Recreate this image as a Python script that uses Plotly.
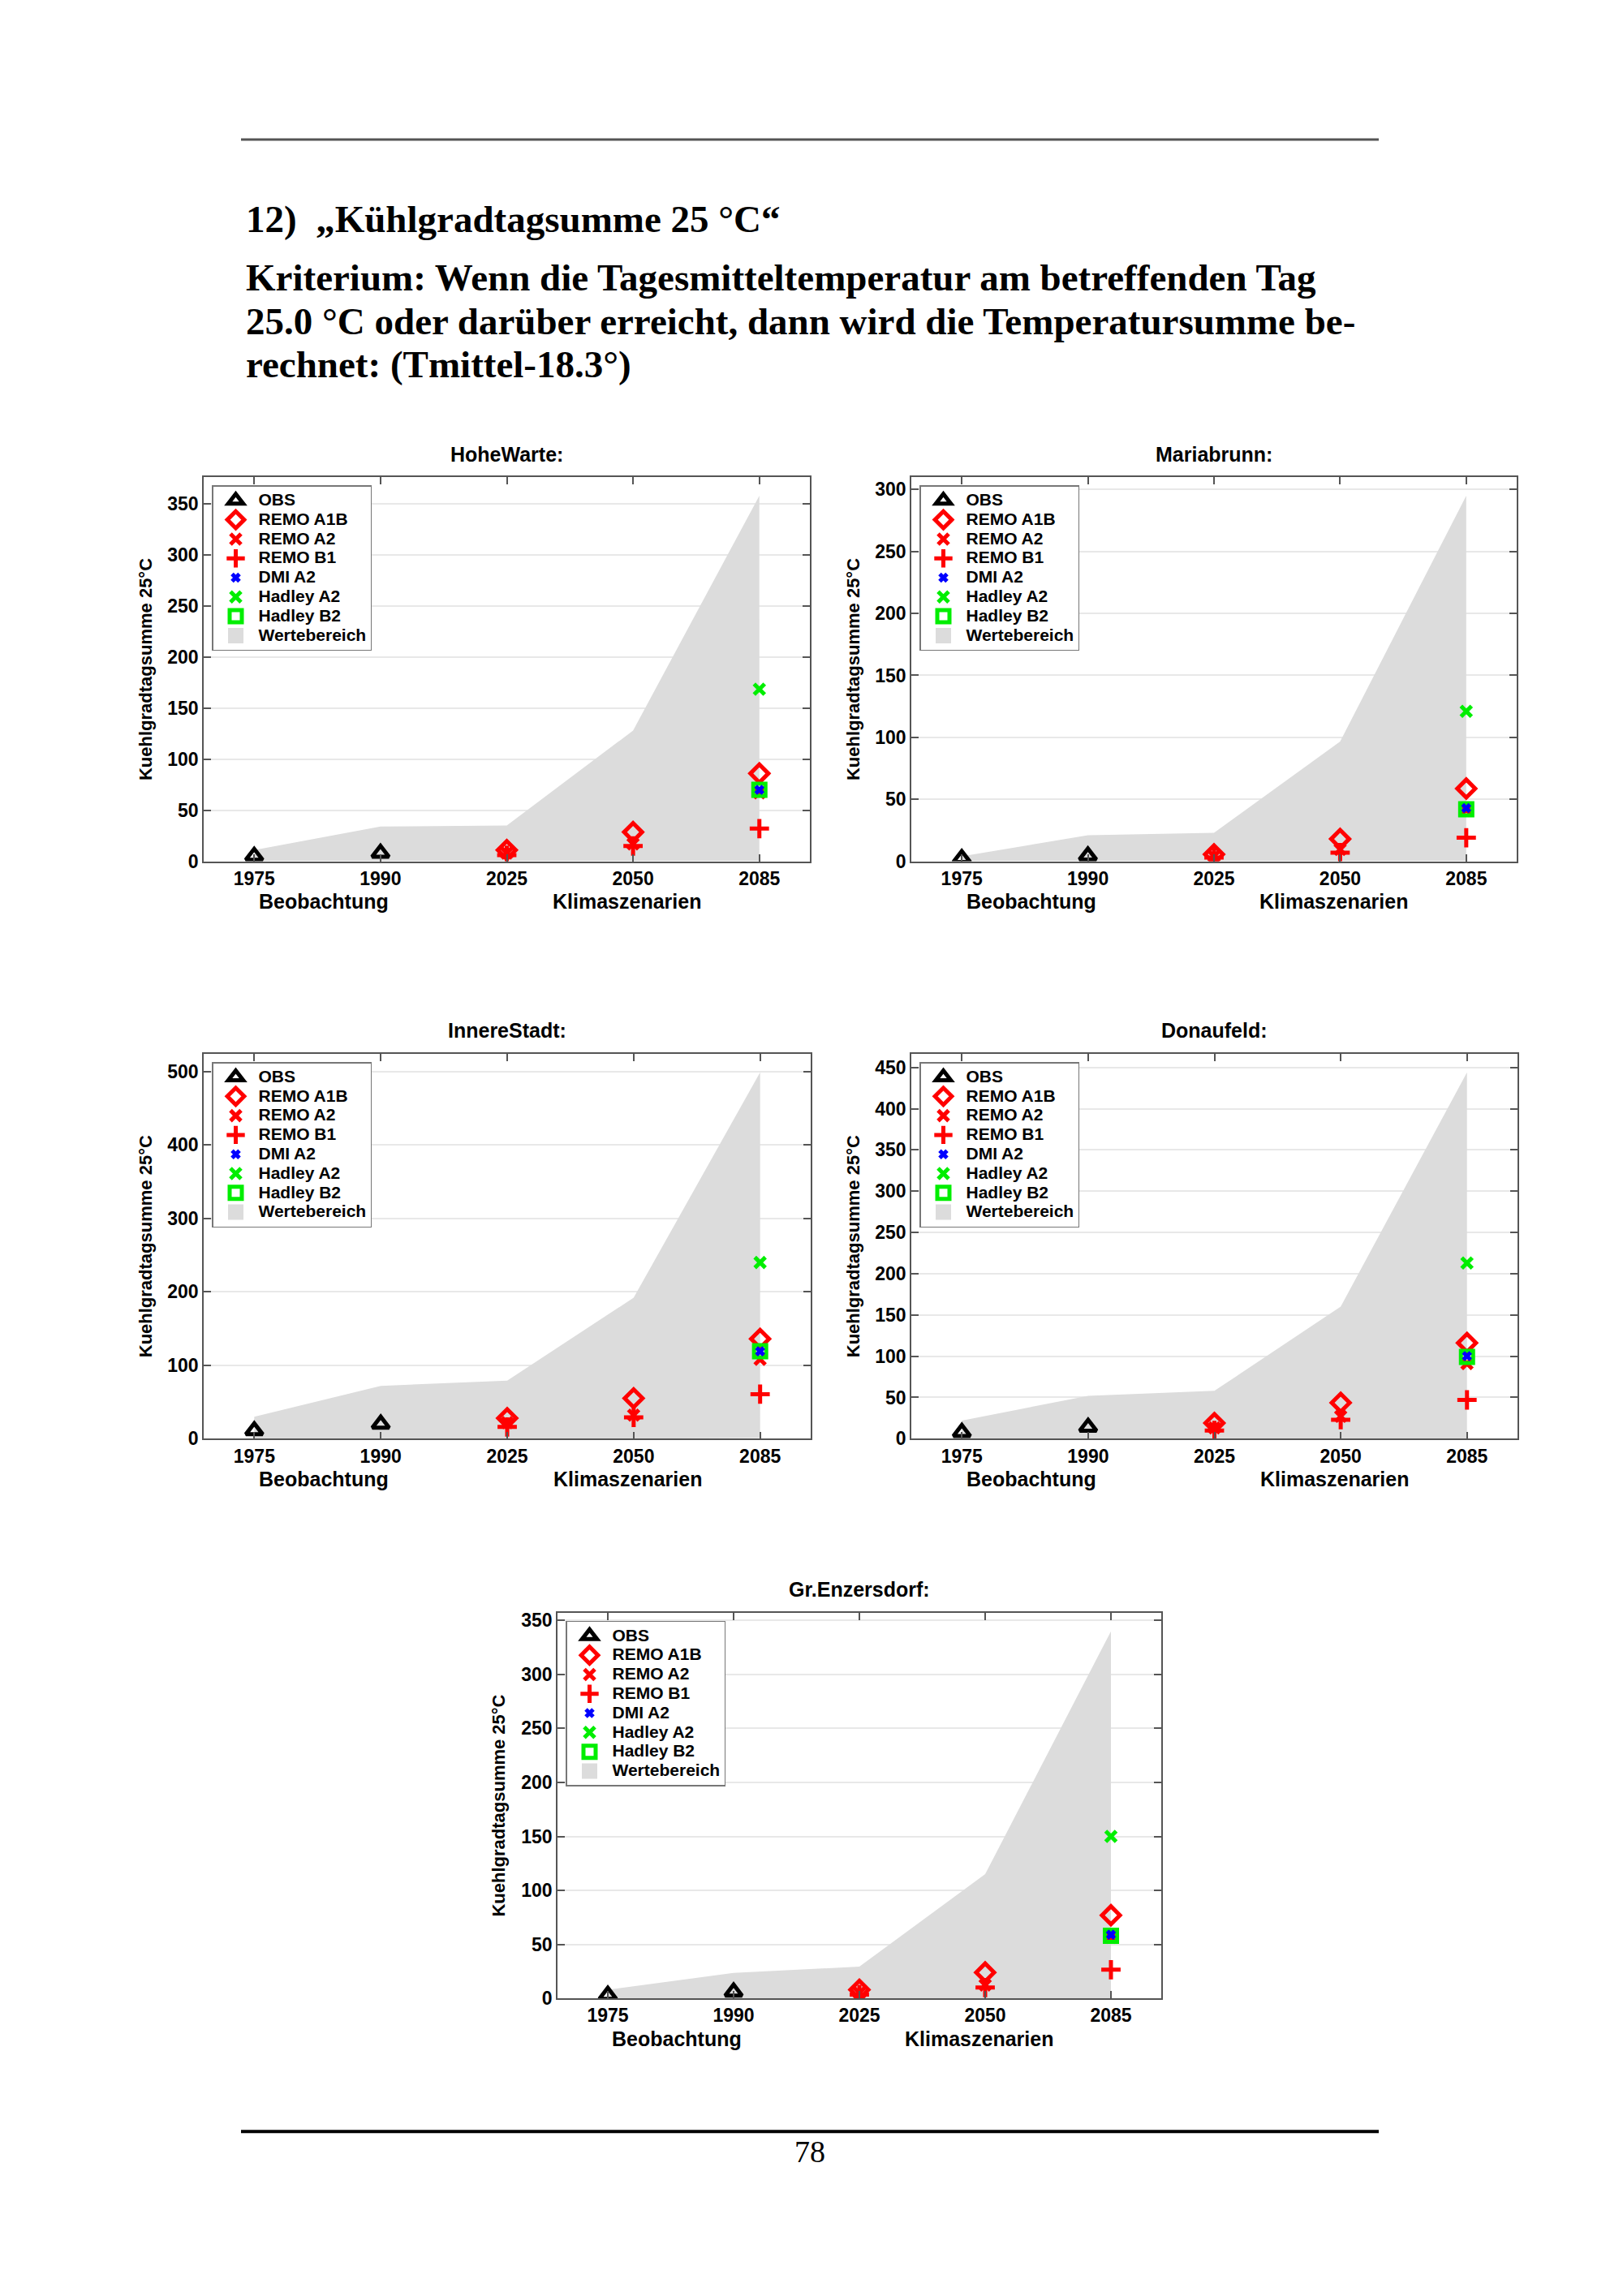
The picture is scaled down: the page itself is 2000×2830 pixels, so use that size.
import plotly.graph_objects as go

W, H = 2000, 2830

# x axis categories (placed at 1..5)
years = ["1975", "1990", "2025", "2050", "2085"]
xpos = [1, 2, 3, 4, 5]

stations = ["HoheWarte:", "Mariabrunn:", "InnereStadt:", "Donaufeld:", "Gr.Enzersdorf:"]

# observations (1975, 1990) per station
obs = [[5, 8], [2.3, 4.4], [11, 20], [7.7, 14], [3, 6]]
# REMO scenarios (2025, 2050, 2085) per station
remo_a1b = [[11, 28.6, 86], [5.6, 18, 58.7], [28, 55, 136], [19, 43.6, 116], [8, 24, 77]]
remo_a2 = [[8, 17, 67], [4, 9.5, 41.5], [22, 32, 108], [13, 27, 91], [5, 12.4, 56.5]]
remo_b1 = [[6, 15, 32], [3, 7, 19], [16, 29, 60.6], [10, 23, 47], [3.5, 10, 26.5]]
# other models, 2085 only
dmi_a2 = [70, 43, 119, 100, 59]
hadley_a2 = [168.6, 121, 240, 213, 150]
hadley_b2 = [70, 42, 119, 99, 58]
# Wertebereich (range) upper and lower bounds, 1975..2085
range_hi = [[11, 34, 35, 128, 358], [4, 21, 23, 96.6, 295], [30, 72, 79, 192, 499],
            [22, 52, 58, 160, 444], [8, 23.5, 29.4, 115, 340]]
range_lo = [[0, 0, 0, 0, 0], [0, 0, 0, 0, 0], [0, 0, 0, 0, 1],
            [0, 0, 0, 0, 0], [0, 0, 0, 0, 0]]
y_dtick = [50, 50, 100, 50, 50]

SANS = "Liberation Sans"
SERIF = "Liberation Serif"
RED, BLUE, GREEN, GREY = "#ff0000", "#0000ff", "#00ee00", "#dcdcdc"

# plot boxes in pixels: left, right, top, bottom
boxes = [(251, 998, 588, 1064), (1123, 1869, 588, 1064),
         (251, 999, 1303, 1780), (1123, 1870, 1303, 1780),
         (687, 1431, 1996, 2474)]


def fx(p):
    return p / W


def fy(p):
    return 1 - p / H


def leg(txt):
    # bigger legend text while keeping the tight row spacing
    return '<span style="font-size:21px">' + txt + "</span>"


def mk(symbol, size, color, width):
    return dict(symbol=symbol, size=size, color=color, line=dict(width=width, color=color))


fig = go.Figure()
annotations = []
layout = {}

for i, name in enumerate(stations):
    n = i + 1
    sfx = "" if n == 1 else str(n)
    xa, ya, lg = "x" + sfx, "y" + sfx, "legend" + sfx
    common = dict(xaxis=xa, yaxis=ya, legend=lg, hoverinfo="skip")

    fig.add_trace(go.Scatter(x=xpos + xpos[::-1], y=range_hi[i] + range_lo[i][::-1],
                             fill="toself", fillcolor=GREY, mode="lines", line=dict(width=0),
                             showlegend=False, **common))
    # legend swatch for the range area
    fig.add_trace(go.Scatter(x=[None], y=[None], mode="markers", name=leg("Wertebereich"),
                             legendrank=8, marker=mk("square", 16, GREY, 3), **common))
    fig.add_trace(go.Scatter(x=xpos[:2], y=obs[i], mode="markers", name=leg("OBS"), legendrank=1,
                             marker=mk("triangle-up-open", 18, "black", 5), **common))
    fig.add_trace(go.Scatter(x=xpos[2:], y=remo_a1b[i], mode="markers", name=leg("REMO A1B"), legendrank=2,
                             marker=mk("diamond-open", 17, RED, 5), **common))
    fig.add_trace(go.Scatter(x=xpos[2:], y=remo_a2[i], mode="markers", name=leg("REMO A2"), legendrank=3,
                             marker=mk("x-thin-open", 13, RED, 5), **common))
    fig.add_trace(go.Scatter(x=xpos[2:], y=remo_b1[i], mode="markers", name=leg("REMO B1"), legendrank=4,
                             marker=mk("cross-thin-open", 17, RED, 5), **common))
    fig.add_trace(go.Scatter(x=[xpos[4]], y=[hadley_a2[i]], mode="markers", name=leg("Hadley A2"), legendrank=6,
                             marker=mk("x-thin-open", 13, GREEN, 5), **common))
    fig.add_trace(go.Scatter(x=[xpos[4]], y=[hadley_b2[i]], mode="markers", name=leg("Hadley B2"), legendrank=7,
                             marker=mk("square-open", 15, GREEN, 5), **common))
    fig.add_trace(go.Scatter(x=[xpos[4]], y=[dmi_a2[i]], mode="markers", name=leg("DMI A2"), legendrank=5,
                             marker=mk("x-thin-open", 9, BLUE, 5), **common))

    x0, x1, y0, y1 = boxes[i]
    axis_style = dict(showline=True, linecolor="#555", linewidth=1.5, mirror="ticks",
                      ticks="inside", ticklen=9, tickwidth=1.5, tickcolor="#555",
                      tickfont=dict(family=SANS, size=23, color="black", weight="bold"),
                      zeroline=False, fixedrange=True)
    layout["xaxis" + sfx] = dict(domain=[fx(x0), fx(x1)], anchor=ya, range=[0.6, 5.4],
                                 tickvals=xpos, ticktext=years, showgrid=False, **axis_style)
    layout["yaxis" + sfx] = dict(domain=[fy(y1), fy(y0)], anchor=xa,
                                 range=[0, 1.05 * max(range_hi[i])], dtick=y_dtick[i],
                                 showgrid=True, gridcolor="#e8e8e8", gridwidth=1.5, **axis_style)
    layout[lg] = dict(x=fx(x0 + 10), y=fy(y0 + 10), xanchor="left", yanchor="top",
                      bgcolor="white", bordercolor="#777", borderwidth=1.5, itemwidth=46,
                      font=dict(family=SANS, size=16, color="black", weight="bold"))

    annotations.append(dict(text=name, xref="paper", yref="paper", x=fx((x0 + x1) / 2),
                            y=fy(y0 - 29), showarrow=False, xanchor="center", yanchor="middle",
                            font=dict(family=SANS, size=25, color="black", weight="bold")))
    annotations.append(dict(text="Kuehlgradtagsumme 25°C", xref="paper", yref="paper",
                            x=fx(x0 - 72), y=fy((y0 + y1) / 2), textangle=-90, showarrow=False,
                            xanchor="center", yanchor="middle",
                            font=dict(family=SANS, size=22, color="black", weight="bold")))
    annotations.append(dict(text="Beobachtung", xref=xa, yref="paper", x=1.55, y=fy(y1 + 50),
                            showarrow=False, xanchor="center", yanchor="middle",
                            font=dict(family=SANS, size=25, color="black", weight="bold")))
    annotations.append(dict(text="Klimaszenarien", xref=xa, yref="paper", x=3.95, y=fy(y1 + 50),
                            showarrow=False, xanchor="center", yanchor="middle",
                            font=dict(family=SANS, size=25, color="black", weight="bold")))

# page text
head_font = dict(family=SERIF, size=47, color="black", weight="bold")
text_lines = [
    ("12)\u00a0 \u201eKühlgradtagsumme 25 °C\u201c", 268),
    ("Kriterium: Wenn die Tagesmitteltemperatur am betreffenden Tag", 340),
    ("25.0 °C oder darüber erreicht, dann wird die Temperatursumme be-", 394),
    ("rechnet: (Tmittel-18.3°)", 448),
]
for txt, py in text_lines:
    annotations.append(dict(text=txt, xref="paper", yref="paper", x=fx(301), y=fy(py),
                            xanchor="left", yanchor="middle", showarrow=False, font=head_font))
annotations.append(dict(text="78", xref="paper", yref="paper", x=fx(998), y=fy(2664),
                        xanchor="center", yanchor="middle", showarrow=False,
                        font=dict(family=SERIF, size=38, color="black")))

shapes = [
    dict(type="line", xref="paper", yref="paper", x0=fx(297), x1=fx(1699), y0=fy(169), y1=fy(169),
         line=dict(color="#555", width=3)),
    dict(type="line", xref="paper", yref="paper", x0=fx(297), x1=fx(1699), y0=fy(2639), y1=fy(2639),
         line=dict(color="black", width=4)),
]

fig.update_layout(**layout)
fig.update_layout(width=W, height=H, margin=dict(l=0, r=0, t=0, b=0),
                  paper_bgcolor="white", plot_bgcolor="white",
                  annotations=annotations, shapes=shapes, showlegend=True)

# drop the default body margin so the figure fills the window exactly
fig.write_html("out.html", config={"displayModeBar": False},
               post_script="document.body.style.margin='0';")
